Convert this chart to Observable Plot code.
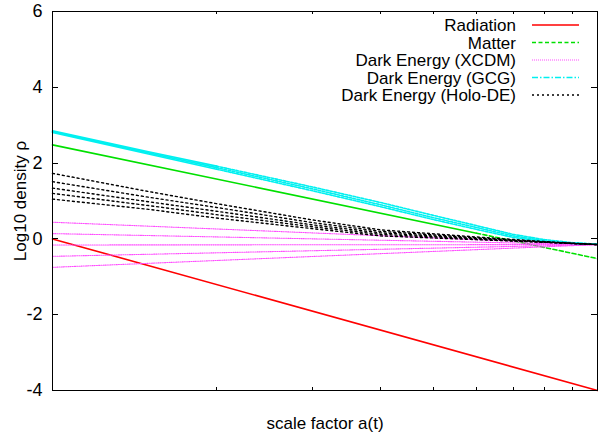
<!DOCTYPE html>
<html>
<head>
<meta charset="utf-8">
<script src="https://cdn.jsdelivr.net/npm/d3@7"></script>
<script src="https://cdn.jsdelivr.net/npm/@observablehq/plot@0.6"></script>
<style>
  html, body { margin: 0; padding: 0; background: #fff; }
  #chart svg { display: block; }
</style>
</head>
<body>
<div id="chart"></div>
<script>
// Energy densities (log10) against scale factor a(t), log x-axis from 0.1 to 1.

// Radiation and matter
const aRadiation = [0.1, 1];
const radiation = [0, -4];
const aMatter = [0.1, 0.6, 1];
const matter = [2.48, 0.15, -0.52];

// Dark energy, XCDM: five equations of state
const aXcdm = [0.1, 1];
const xcdm = [
  [0.44, -0.15],
  [0.14, -0.15],
  [-0.16, -0.15],
  [-0.46, -0.15],
  [-0.75, -0.15]
];

// Dark energy, generalized Chaplygin gas: a tight bundle of three curves
const aGcg = [0.1, 0.15, 0.2, 0.3, 0.4, 0.5, 0.6, 0.7, 0.8, 0.9, 1];
const gcg = [
  [2.85, 2.30, 1.92, 1.37, 0.96, 0.62, 0.35, 0.12, -0.02, -0.10, -0.14],
  [2.83, 2.27, 1.88, 1.32, 0.90, 0.56, 0.30, 0.08, -0.05, -0.11, -0.14],
  [2.81, 2.24, 1.84, 1.27, 0.85, 0.51, 0.25, 0.04, -0.07, -0.12, -0.14]
];

// Dark energy, holographic: five curves
const aHolo = [0.1, 0.15, 0.2, 0.3, 0.4, 0.6, 0.8, 1];
const holo = [
  [1.73, 1.25, 0.93, 0.50, 0.24, 0.05, -0.07, -0.15],
  [1.51, 1.10, 0.83, 0.43, 0.20, 0.03, -0.08, -0.15],
  [1.34, 0.98, 0.73, 0.37, 0.16, 0.01, -0.085, -0.15],
  [1.20, 0.88, 0.64, 0.32, 0.12, 0.00, -0.09, -0.15],
  [1.05, 0.78, 0.55, 0.27, 0.08, -0.02, -0.09, -0.15]
];

// Axis ticks
const yTicks = [-4, -2, 0, 2, 4, 6];
const xMinorTicks = [0.2, 0.3, 0.4, 0.5, 0.6, 0.7, 0.8, 0.9];

// Legend entries
const legendLabels = ["Radiation", "Matter", "Dark Energy (XCDM)", "Dark Energy (GCG)", "Dark Energy (Holo-DE)"];

// Line styles (legend dash pattern, in-plot pattern, where the in-plot pattern begins)
const styles = [
  {stroke: "#ff0000", width: 1.6, legendDash: null,        dash: null,      from: null},
  {stroke: "#00e000", width: 1.6, legendDash: "4,2.5",     dash: "4,2.5",   from: 0.6},
  {stroke: "#ff4dff", width: 1.1, legendDash: "1,1",       dash: "1,1.2",   from: 0.1},
  {stroke: "#00f0f0", width: 1.6, legendDash: "6,2,1.5,2", dash: "2.5,1.5", from: 0.2},
  {stroke: "#000000", width: 1.4, legendDash: "2,3",       dash: "2,3",     from: 0.1}
];

const FONT = "'Liberation Sans', Arial, Helvetica, sans-serif";

function toRows(aArr, vals, key) {
  return aArr.map((a, i) => ({a, v: vals[i], key}));
}

// Draw one family: solid up to `from`, patterned from there to the end.
function family(series, aArr, st) {
  const marks = [];
  series.forEach((vals, k) => {
    const rows = toRows(aArr, vals, k);
    if (st.from == null) {
      marks.push(Plot.line(rows, {x: "a", y: "v", stroke: st.stroke, strokeWidth: st.width}));
      return;
    }
    const solid = rows.filter(d => d.a <= st.from);
    const patterned = rows.filter(d => d.a >= st.from);
    if (solid.length > 1) {
      marks.push(Plot.line(solid, {x: "a", y: "v", stroke: st.stroke, strokeWidth: st.width}));
    }
    marks.push(Plot.line(patterned, {x: "a", y: "v", stroke: st.stroke, strokeWidth: st.width, strokeDasharray: st.dash}));
  });
  return marks;
}

// Inward tick marks on all four sides of the frame
function frameTicks(index, scales, values, dim) {
  const x0 = dim.marginLeft, x1 = dim.width - dim.marginRight;
  const y0 = dim.marginTop, y1 = dim.height - dim.marginBottom;
  const g = d3.create("svg:g")
    .attr("stroke", "#000")
    .attr("stroke-width", 1)
    .attr("shape-rendering", "crispEdges");
  for (const t of yTicks) {
    const y = Math.round(scales.y(t)) + 0.5;
    g.append("line").attr("x1", x0).attr("x2", x0 + 6).attr("y1", y).attr("y2", y);
    g.append("line").attr("x1", x1).attr("x2", x1 - 6).attr("y1", y).attr("y2", y);
  }
  for (const t of xMinorTicks) {
    const x = Math.round(scales.x(t)) + 0.5;
    g.append("line").attr("x1", x).attr("x2", x).attr("y1", y1).attr("y2", y1 - 3);
    g.append("line").attr("x1", x).attr("x2", x).attr("y1", y0).attr("y2", y0 + 3);
  }
  return g.node();
}

// Key in the upper right corner: right-aligned labels followed by line samples
function legend(index, scales, values, dim) {
  const right = dim.width - dim.marginRight;
  const g = d3.create("svg:g");
  legendLabels.forEach((label, i) => {
    const st = styles[i];
    const y = dim.marginTop + 14 + i * 17.5;
    g.append("text")
      .attr("x", right - 81)
      .attr("y", y)
      .attr("dy", "0.36em")
      .attr("text-anchor", "end")
      .attr("font-family", FONT)
      .attr("font-size", 17)
      .attr("fill", "#000")
      .text(label);
    g.append("line")
      .attr("x1", right - 65).attr("x2", right - 18)
      .attr("y1", y).attr("y2", y)
      .attr("stroke", st.stroke)
      .attr("stroke-width", st.width)
      .attr("stroke-dasharray", st.legendDash);
  });
  return g.node();
}

const chart = Plot.plot({
  width: 598,
  height: 440,
  marginLeft: 52,
  marginRight: 1,
  marginTop: 11,
  marginBottom: 50,
  style: {fontFamily: FONT, fontSize: "17px", background: "#fff", color: "#000"},
  x: {type: "log", domain: [0.1, 1], axis: null},
  y: {domain: [-4, 6], axis: null},
  marks: [
    Plot.axisY({ticks: yTicks, tickSize: 0, tickPadding: 10, fontSize: 18, label: null, tickFormat: d => d < 0 ? "-" + Math.abs(d) : String(d)}),
    ...family([radiation], aRadiation, styles[0]),
    ...family([matter], aMatter, styles[1]),
    ...family(xcdm, aXcdm, styles[2]),
    ...family(gcg, aGcg, styles[3]),
    ...family(holo, aHolo, styles[4]),
    Plot.frame({stroke: "#000", strokeWidth: 1}),
    frameTicks,
    legend,
    Plot.text(["scale factor a(t)"], {frameAnchor: "bottom", dy: 38, fontSize: 17, textAnchor: "middle", text: d => d}),
    Plot.text(["Log10 density ρ"], {frameAnchor: "left", dx: -32, rotate: -90, fontSize: 17, textAnchor: "middle", text: d => d})
  ]
});

document.getElementById("chart").appendChild(chart);
</script>
</body>
</html>
